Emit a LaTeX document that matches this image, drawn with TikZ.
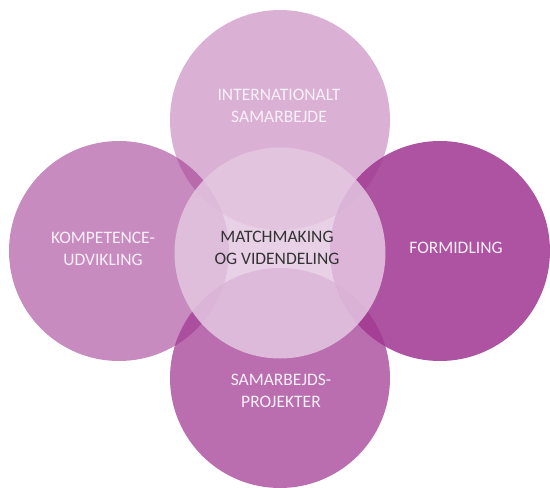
\documentclass[tikz,border=0pt]{standalone}
\usepackage{fontspec}
\setmainfont{Carlito}
\definecolor{basep}{HTML}{A03791}
\definecolor{centerc}{HTML}{E4C8E2}
\definecolor{lighttext}{HTML}{F8F0F8}
\definecolor{darktext}{HTML}{333333}
\begin{document}
\begin{tikzpicture}[x=1pt,y=-1pt,
  petal/.style={circle, inner sep=0pt, minimum size=220pt, fill=basep},
  hub/.style={circle, inner sep=0pt, minimum size=211pt, fill=centerc, fill opacity=0.85},
  lbl/.style={align=center, text=lighttext, font=\fontsize{17.5}{22}\selectfont, inner sep=0pt},
  hublbl/.style={align=center, text=darktext, font=\fontsize{17.5}{22}\selectfont, inner sep=0pt}]
\useasboundingbox (0,0) rectangle (550,488);
\begin{scope}
\clip (0,0) rectangle (550,488);
\node[petal, fill opacity=0.39] (top) at (280,120) {};
\node[petal, fill opacity=0.86] (right) at (440,251) {};
\node[petal, fill opacity=0.73] (bottom) at (280,378) {};
\node[petal, fill opacity=0.58] (left) at (119,251) {};
\node[hub] (hub) at (280,253) {};
\end{scope}
\node[lbl] (ltop) at (279,106) {INTERNATIONALT\\SAMARBEJDE};
\node[lbl] (lleft) at (103,249) {KOMPETENCE-\\UDVIKLING};
\node[lbl] (lright) at (456,248) {FORMIDLING};
\node[lbl] (lbottom) at (281,391) {SAMARBEJDS-\\PROJEKTER};
\node[hublbl] (lhub) at (277,248) {MATCHMAKING\\OG VIDENDELING};
\end{tikzpicture}
\end{document}
